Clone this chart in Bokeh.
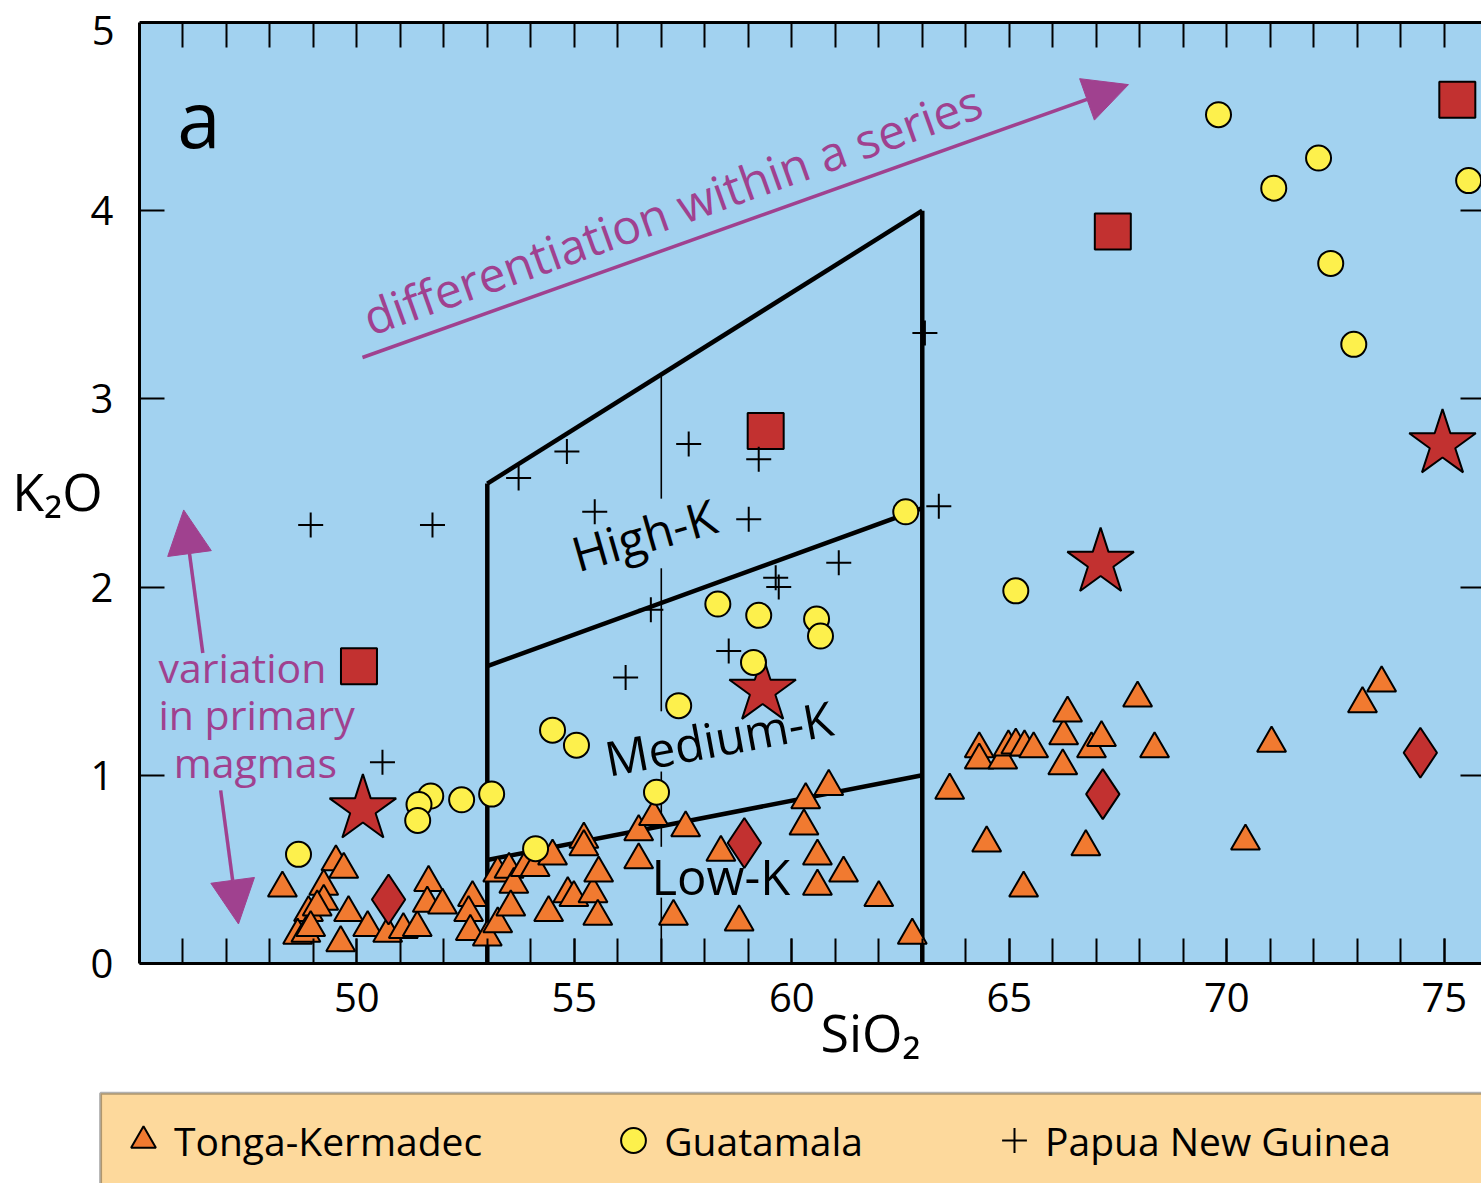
from bokeh.plotting import figure
from bokeh.models import (Range1d, LinearAxis, FixedTicker, Label, Arrow, NormalHead,
                          Legend, LegendItem, BoxAnnotation)
from bokeh.embed import file_html
from bokeh.resources import INLINE

# ---------------- data ----------------
tonga_sio2 = [48.29, 49.52, 49.70, 49.24, 49.24, 48.89, 49.09, 48.64, 48.83, 48.94,
              49.63, 49.81, 50.25, 50.71, 51.07, 51.39, 51.65, 51.62, 51.97, 52.66,
              52.57, 52.61, 53.00, 53.24, 53.24, 53.50, 53.61, 53.54, 53.87, 54.10,
              54.50, 54.41, 54.85, 54.99, 55.22, 55.43, 55.56, 55.54, 55.22, 56.48,
              56.48, 56.82, 57.56, 57.28, 58.37, 58.79, 60.32, 60.85, 60.28, 60.59,
              61.19, 60.59, 62.00, 62.77, 63.63, 64.48, 65.33, 64.31, 64.31, 64.85,
              64.98, 65.15, 65.35, 65.56, 66.25, 66.34, 66.23, 66.89, 67.12, 66.76,
              67.95, 68.34, 71.03, 70.43, 73.12, 73.56]
tonga_k2o = [0.40, 0.54, 0.50, 0.41, 0.33, 0.27, 0.30, 0.15, 0.16, 0.19,
             0.11, 0.27, 0.19, 0.16, 0.18, 0.19, 0.43, 0.32, 0.31, 0.35,
             0.27, 0.17, 0.14, 0.21, 0.48, 0.50, 0.42, 0.30, 0.51, 0.51,
             0.57, 0.27, 0.37, 0.35, 0.66, 0.37, 0.48, 0.25, 0.62, 0.55,
             0.70, 0.78, 0.72, 0.25, 0.59, 0.22, 0.87, 0.94, 0.73, 0.57,
             0.48, 0.41, 0.35, 0.15, 0.92, 0.64, 0.40, 1.14, 1.08, 1.08,
             1.15, 1.16, 1.15, 1.14, 1.21, 1.33, 1.05, 1.14, 1.20, 0.62,
             1.41, 1.14, 1.17, 0.65, 1.38, 1.49]

guat_sio2 = [69.81, 72.11, 71.08, 75.56, 72.39, 72.92, 62.62, 65.15, 58.30, 59.24,
             60.57, 60.66, 59.12, 57.40, 54.50, 55.05, 56.89, 53.10, 52.41, 51.70,
             51.43, 51.40, 48.66, 54.11]
guat_k2o = [4.51, 4.28, 4.12, 4.16, 3.72, 3.29, 2.40, 1.98, 1.91, 1.85,
            1.83, 1.74, 1.60, 1.37, 1.24, 1.16, 0.91, 0.90, 0.87, 0.89,
            0.845, 0.76, 0.58, 0.61]

png_sio2 = [48.94, 51.74, 53.72, 54.83, 55.47, 57.63, 59.24, 59.01, 59.63, 59.70,
            61.08, 56.76, 58.55, 56.18, 63.06, 63.38, 50.59]
png_k2o = [2.33, 2.33, 2.58, 2.72, 2.40, 2.76, 2.68, 2.36, 2.05, 2.00,
           2.13, 1.88, 1.66, 1.52, 3.35, 2.43, 1.07]

star_sio2 = [50.14, 59.33, 67.10, 74.96]
star_k2o = [0.82, 1.45, 2.13, 2.76]
square_sio2 = [50.05, 59.40, 67.38, 75.30]
square_k2o = [1.58, 2.83, 3.89, 4.59]
diamond_sio2 = [50.73, 58.91, 67.15, 74.45]
diamond_k2o = [0.34, 0.64, 0.90, 1.12]

# classification boundaries
bound_x = [53, 63]
low_med_k2o = [0.55, 1.00]
med_high_k2o = [1.58, 2.42]
top_k2o = [2.55, 4.00]
left_wall_k2o = [0, 2.55]
right_wall_k2o = [0, 4.00]
thin_x = [57, 57, 57, 57]
thin_top = [3.13, 2.10, 1.02, 0.35]
thin_bottom = [2.47, 1.34, 0.62, 0.00]

# axes / ticks
x_min, x_max = 45, 75.856
y_min, y_max = 0, 5
x_major = [50, 55, 60, 65, 70, 75]
x_minor = list(range(46, 76))
y_major = [0, 1, 2, 3, 4]
y_top_label = "5"
y_right = [1, 2, 3, 4]

legend_labels = ["Tonga-Kermadec", "Guatamala", "Papua New Guinea"]

FONT = "Open Sans"
PURPLE = "#A0418F"
ORANGE = "#F17A30"
YELLOW = "#FDF04C"
RED = "#C23130"
BLUE = "#A2D2F0"
LEGEND_BG = "#FDD99C"

# whole canvas is the frame; axes are fixed inside it
p = figure(width=1481, height=1183, x_range=Range1d(41.809, 75.856), y_range=Range1d(-1.169, 5.117),
           output_backend="svg", toolbar_location=None,
           x_axis_location=None, y_axis_location=None,
           min_border_left=0, min_border_right=0, min_border_top=0, min_border_bottom=0,
           background_fill_color="white", border_fill_color="white", outline_line_color=None)
p.xgrid.visible = False
p.ygrid.visible = False

# plot area and legend panel backgrounds
p.add_layout(BoxAnnotation(left=x_min, right=80, bottom=y_min, top=y_max, fill_color=BLUE,
                           fill_alpha=1, line_color=None, level="underlay"))
p.add_layout(BoxAnnotation(left=44.11, right=80, top=-0.69, bottom=-2.0, fill_color=LEGEND_BG,
                           fill_alpha=1, line_color="black", line_width=3, level="underlay"))

xb = LinearAxis(fixed_location=y_min, bounds=(x_min, x_max),
                ticker=FixedTicker(ticks=x_major, minor_ticks=x_minor),
                axis_line_width=3, major_tick_in=25, major_tick_out=0,
                minor_tick_in=25, minor_tick_out=0, major_tick_line_width=2,
                minor_tick_line_width=2, major_label_standoff=20,
                major_label_text_font=FONT, major_label_text_font_size="40px",
                major_label_text_color="black")
p.add_layout(xb, "below")
xt = LinearAxis(fixed_location=y_max, bounds=(x_min, x_max),
                ticker=FixedTicker(ticks=[], minor_ticks=x_minor),
                axis_line_width=3, major_tick_in=0, major_tick_out=0,
                minor_tick_in=25, minor_tick_out=0, minor_tick_line_width=2)
p.add_layout(xt, "above")
yl = LinearAxis(fixed_location=x_min, bounds=(y_min, y_max),
                ticker=FixedTicker(ticks=y_major),
                axis_line_width=3, major_tick_in=25, major_tick_out=0,
                minor_tick_in=0, minor_tick_out=0, major_tick_line_width=2,
                major_label_standoff=26, major_label_text_font=FONT,
                major_label_text_font_size="40px", major_label_text_color="black")
p.add_layout(yl, "left")
yr = LinearAxis(fixed_location=x_max, bounds=(y_min, y_max),
                ticker=FixedTicker(ticks=[], minor_ticks=y_right),
                axis_line_color=None, major_tick_in=0, major_tick_out=0,
                minor_tick_in=21, minor_tick_out=0, minor_tick_line_width=2)
p.add_layout(yr, "right")
# top tick label (nudged inside the page, as in the original)
p.add_layout(Label(x=44.43, y=4.960, text=y_top_label, text_align="right", text_baseline="alphabetic",
                   text_font=FONT, text_font_size="40px", text_color="black"))

# boundaries
p.segment(x0=thin_x, y0=thin_top, x1=thin_x, y1=thin_bottom, line_color="black", line_width=1.6)
for ys in (low_med_k2o, med_high_k2o, top_k2o):
    p.line(bound_x, ys, line_color="black", line_width=4.5)
p.line([bound_x[0], bound_x[0]], left_wall_k2o, line_color="black", line_width=4.5)
p.line([bound_x[1], bound_x[1]], right_wall_k2o, line_color="black", line_width=4.5)

# data
r_t = p.scatter(tonga_sio2, tonga_k2o, marker="triangle", size=29, fill_color=ORANGE,
                line_color="black", line_width=2)
p.scatter(star_sio2, star_k2o, marker="star", size=70, fill_color=RED, line_color="black", line_width=2)
p.scatter(square_sio2, square_k2o, marker="square", size=36, fill_color=RED, line_color="black", line_width=2)
p.scatter(diamond_sio2, diamond_k2o, marker="diamond", size=50, fill_color=RED, line_color="black", line_width=2)
r_g = p.scatter(guat_sio2, guat_k2o, marker="circle", size=25, fill_color=YELLOW,
                line_color="black", line_width=2)
r_p = p.scatter(png_sio2, png_k2o, marker="cross", size=25, line_color="black", line_width=2)

# field labels
p.add_layout(Label(x=56.6, y=2.28, text="High-K", text_align="center", text_baseline="alphabetic",
                   angle=16, angle_units="deg", text_font=FONT, text_font_size="48px", text_color="black"))
p.add_layout(Label(x=58.32, y=1.20, text="Medium-K", text_align="center", text_baseline="alphabetic",
                   angle=10.5, angle_units="deg", text_font=FONT, text_font_size="48px", text_color="black"))
p.add_layout(Label(x=58.37, y=0.466, text="Low-K", text_align="center", text_baseline="alphabetic",
                   text_font=FONT, text_font_size="49px", text_color="black"))
p.add_layout(Label(x=46.37, y=4.49, text="a", text_align="center", text_baseline="alphabetic",
                   text_font=FONT, text_font_size="78px", text_color="black"))

# arrows and their texts
for xs, ys, xe, ye in [(50.13, 3.22, 67.74, 4.67), (46.46, 1.65, 46.02, 2.41), (46.87, 0.92, 47.28, 0.21)]:
    p.add_layout(Arrow(end=NormalHead(size=44, fill_color=PURPLE, line_color=PURPLE),
                       x_start=xs, y_start=ys, x_end=xe, y_end=ye,
                       line_color=PURPLE, line_width=3.5))
p.add_layout(Label(x=57.25, y=4.01, text="differentiation within a series", text_align="center",
                   text_baseline="alphabetic", angle=19.7, angle_units="deg",
                   text_font=FONT, text_font_size="48px", text_color=PURPLE))
for txt, xx, yy in [("variation", 45.44, 1.578), ("in primary", 45.44, 1.328), ("magmas", 45.79, 1.073)]:
    p.add_layout(Label(x=xx, y=yy, text=txt, text_align="left", text_baseline="alphabetic",
                       text_font=FONT, text_font_size="41px", text_color=PURPLE))

# axis titles
p.add_layout(Label(x=43.12, y=2.513, text="K₂O", text_align="center", text_baseline="alphabetic",
                   text_font=FONT, text_font_size="52px", text_color="black"))
p.add_layout(Label(x=61.81, y=-0.361, text="SiO₂", text_align="center", text_baseline="alphabetic",
                   text_font=FONT, text_font_size="52px", text_color="black"))

# legend
legend = Legend(items=[LegendItem(label=legend_labels[0], renderers=[r_t]),
                       LegendItem(label=legend_labels[1], renderers=[r_g]),
                       LegendItem(label=legend_labels[2], renderers=[r_p])],
                location=(112, 12), orientation="horizontal", glyph_width=62, glyph_height=62,
                label_standoff=-4, spacing=120, padding=0, margin=0, border_line_color=None,
                background_fill_alpha=0, label_text_font=FONT, label_text_font_size="39px",
                label_text_color="black")
p.add_layout(legend)

open("out.html", "w").write(file_html(p, INLINE))
